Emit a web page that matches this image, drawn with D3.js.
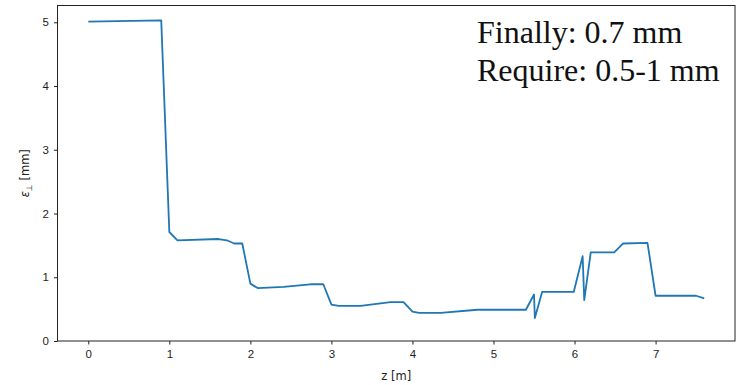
<!DOCTYPE html>
<html>
<head>
<meta charset="utf-8">
<script src="https://cdn.jsdelivr.net/npm/d3@7"></script>
<style>
  body { margin: 0; background: #fff; }
  svg { display: block; font-family: "DejaVu Sans", sans-serif; }
  .tick text { font-size: 11.5px; fill: #222; }
  .tick line { stroke: #222; }
  .domain { display: none; }
</style>
</head>
<body>
<div id="chart"></div>
<script>
// Beam emittance along the line
const zValues = [0, 0.9, 1.0, 1.1, 1.61, 1.71, 1.8, 1.9, 2.0, 2.09, 2.41, 2.74, 2.9, 3.0, 3.09, 3.36, 3.73, 3.89,
  4.0, 4.08, 4.35, 4.8, 5.4, 5.5, 5.51, 5.6, 5.99, 6.1, 6.12, 6.2, 6.49, 6.6, 6.9, 7.0, 7.5, 7.6];
const epsValues = [5.01, 5.03, 1.71, 1.58, 1.6, 1.58, 1.53, 1.53, 0.9, 0.83, 0.85, 0.89, 0.89, 0.57, 0.55, 0.55, 0.61, 0.61,
  0.46, 0.44, 0.44, 0.49, 0.49, 0.73, 0.36, 0.77, 0.77, 1.33, 0.64, 1.39, 1.39, 1.53, 1.54, 0.71, 0.71, 0.67];
const xTicks = [0, 1, 2, 3, 4, 5, 6, 7];
const yTicks = [0, 1, 2, 3, 4, 5];
const noteLines = ["Finally: 0.7 mm", "Require: 0.5-1 mm"];

const width = 741;
const height = 385;
const margin = { top: 5.5, right: 6, bottom: 44, left: 57.5 };

const data = zValues.map((z, i) => ({ z: z, eps: epsValues[i] }));

const svg = d3.select("#chart")
  .append("svg")
  .attr("width", width)
  .attr("height", height);

// matplotlib style 5% margin on x, y starts at 0
const xPad = (d3.max(zValues) - d3.min(zValues)) * 0.05;
const x = d3.scaleLinear()
  .domain([d3.min(zValues) - xPad, d3.max(zValues) + xPad])
  .range([margin.left, width - margin.right]);

const yMax = d3.max(epsValues);
const y = d3.scaleLinear()
  .domain([0, yMax + (yMax - d3.min(epsValues)) * 0.05])
  .range([height - margin.bottom, margin.top]);

// axes
svg.append("g")
  .attr("transform", `translate(0,${height - margin.bottom})`)
  .call(d3.axisBottom(x).tickValues(xTicks).tickSize(3.5).tickPadding(5).tickFormat(d3.format("d")));

svg.append("g")
  .attr("transform", `translate(${margin.left},0)`)
  .call(d3.axisLeft(y).tickValues(yTicks).tickSize(3.5).tickPadding(5).tickFormat(d3.format("d")));

// the curve
const line = d3.line()
  .x(d => x(d.z))
  .y(d => y(d.eps));

svg.append("path")
  .datum(data)
  .attr("fill", "none")
  .attr("stroke", "#1f77b4")
  .attr("stroke-width", 1.8)
  .attr("stroke-linejoin", "round")
  .attr("d", line);

// frame
svg.append("rect")
  .attr("x", margin.left)
  .attr("y", margin.top)
  .attr("width", width - margin.right - margin.left)
  .attr("height", height - margin.bottom - margin.top)
  .attr("fill", "none")
  .attr("stroke", "#222")
  .attr("stroke-width", 1);

// axis labels
svg.append("text")
  .attr("x", (margin.left + width - margin.right) / 2)
  .attr("y", 380)
  .attr("text-anchor", "middle")
  .style("font-size", "11.5px")
  .style("fill", "#222")
  .text("z [m]");

const yLabel = svg.append("text")
  .attr("transform", `translate(29,${(margin.top + height - margin.bottom) / 2}) rotate(-90)`)
  .attr("text-anchor", "middle")
  .style("font-size", "11.5px")
  .style("fill", "#222");
yLabel.append("tspan").style("font-style", "italic").text("ε");
yLabel.append("tspan").attr("dy", 3).style("font-size", "8px").text("⊥");
yLabel.append("tspan").attr("dy", -3).text(" [mm]");

// annotation
svg.append("g")
  .selectAll("text")
  .data(noteLines)
  .enter().append("text")
  .attr("x", 477)
  .attr("y", (d, i) => 43.3 + i * 37.5)
  .style("font-family", "'Liberation Serif', serif")
  .style("font-size", "32px")
  .style("fill", "#111")
  .text(d => d);
</script>
</body>
</html>
